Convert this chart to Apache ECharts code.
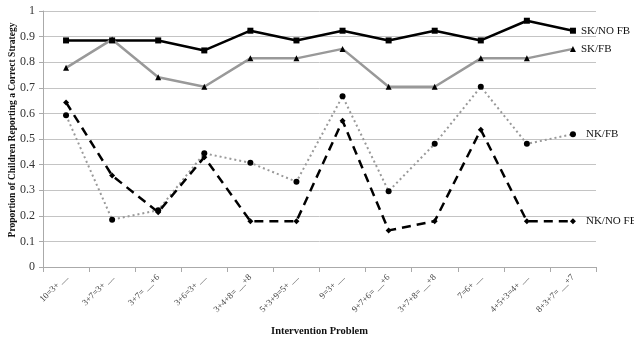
<!DOCTYPE html>
<html><head><meta charset="utf-8">
<script src="https://cdn.jsdelivr.net/npm/echarts@6/dist/echarts.min.js"></script>
<style>html,body{margin:0;padding:0;background:#fff}#c{width:634px;height:337px}</style>
</head><body><div id="c"></div>
<script>
const categories = ["10=3+ __","3+7=3+ __","3+7= __+6","3+6=3+ __","3+4+8= __+8","5+3+9=5+ __","9=3+ __","9+7+6= __+6","3+7+8= __+8","7=6+ __","4+5+3=4+ __","8+3+7= __+7"];
const skNoFb = [0.885,0.885,0.885,0.846,0.923,0.885,0.923,0.885,0.923,0.885,0.962,0.923];
const skFb = [0.778,0.889,0.741,0.704,0.815,0.815,0.852,0.704,0.704,0.815,0.815,0.852];
const nkFb = [0.593,0.185,0.222,0.444,0.407,0.333,0.667,0.296,0.481,0.704,0.481,0.519];
const nkNoFb = [0.643,0.357,0.214,0.429,0.179,0.179,0.571,0.143,0.179,0.536,0.179,0.179];
const yTicks = [0,0.1,0.2,0.3,0.4,0.5,0.6,0.7,0.8,0.9,1];

const serif = '"Liberation Serif","DejaVu Serif",serif';
const chart = echarts.init(document.getElementById('c'));
function s(name, data, color, lineType, symbol, size, width, dist){
  return {name, type:'line', data, symbol, symbolSize:size, animation:false,
    lineStyle:{color, type:lineType, width},
    itemStyle:{color:'#000'},
    endLabel:{show:true, formatter:name, fontFamily:serif, fontSize:11, color:'#111', distance:dist}};
}
chart.setOption({
  animation:false,
  grid:{left:43,right:38,top:11,bottom:70,containLabel:false,outerBoundsMode:'none'},
  xAxis:{type:'category', data:categories, boundaryGap:true,
    name:'Intervention Problem', nameLocation:'middle', nameGap:59, nameMoveOverlap:false,
    nameTextStyle:{fontFamily:serif, fontWeight:'bold', fontSize:10.5, color:'#111'},
    axisLine:{lineStyle:{color:'#aaa'}},
    axisTick:{show:true, length:5, lineStyle:{color:'#aaa'}},
    axisLabel:{rotate:45, fontFamily:serif, fontSize:9, color:'#444', margin:9, interval:0}},
  yAxis:{type:'value', min:0, max:1, interval:0.1,
    name:'Proportion of Children Reporting a Correct Strategy', nameLocation:'middle', nameGap:25, nameMoveOverlap:false,
    nameTextStyle:{fontFamily:serif, fontWeight:'bold', fontSize:9.5, color:'#111', padding:[0,0,0,18]},
    axisLine:{show:true, lineStyle:{color:'#aaa'}},
    axisTick:{show:true, length:4, lineStyle:{color:'#aaa'}},
    splitLine:{lineStyle:{color:'#c4c4c4', width:1}},
    axisLabel:{fontFamily:serif, fontSize:12, color:'#333', margin:8,
      formatter:v=>{const t=yTicks.find(x=>Math.abs(x-v)<1e-6); return t===undefined?'':String(t);}}},
  series:[
    s('SK/NO FB', skNoFb, '#000', 'solid', 'rect', 6, 2.5, 8),
    s('SK/FB', skFb, '#999', 'solid', 'triangle', 6, 2.5, 8),
    s('NK/FB', nkFb, '#999', [2,3], 'circle', 6, 2, 13),
    s('NK/NO FB', nkNoFb, '#000', [9,6], 'diamond', 6, 2.5, 13)
  ]
});
</script></body></html>
